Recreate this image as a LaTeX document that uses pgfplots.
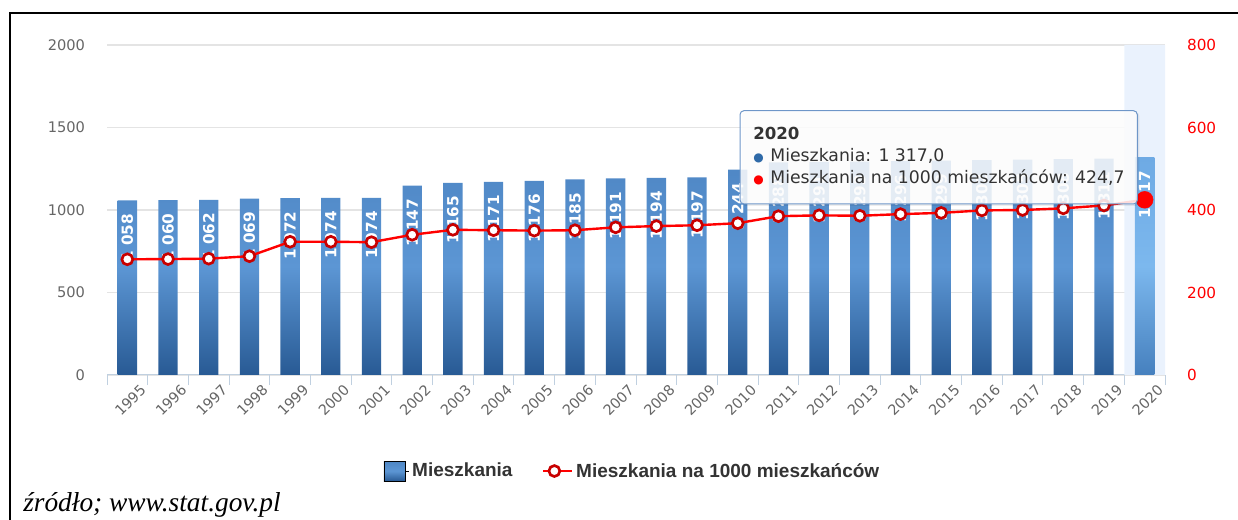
\documentclass[border=0pt]{standalone}
\usepackage{pgfplots}
\pgfplotsset{compat=1.18}
\usepackage{pgfplotstable}
\usepackage{fontspec}
\setmainfont{DejaVu Sans}
\newfontfamily\lsans{Liberation Sans}
\newfontfamily\tnr{Liberation Serif}

\definecolor{barTop}{RGB}{78,134,196}
\definecolor{barMid}{RGB}{92,150,212}
\definecolor{barBot}{RGB}{40,90,148}
\definecolor{hovTop}{RGB}{110,170,228}
\definecolor{hovMid}{RGB}{124,184,238}
\definecolor{hovBot}{RGB}{70,128,190}
\definecolor{gridc}{RGB}{228,228,228}
\definecolor{axc}{RGB}{192,208,224}
\definecolor{tickc}{RGB}{102,102,102}
\definecolor{hl}{RGB}{234,242,253}
\definecolor{textc}{RGB}{51,51,51}
\definecolor{tipc}{RGB}{110,150,200}
\definecolor{lred}{RGB}{255,0,0}
\definecolor{mred}{RGB}{200,0,0}
\definecolor{dotblue}{RGB}{47,106,168}

\pgfplotsset{
  barlegend/.style={legend image code/.code={\path (0bp,0bp) -- (19bp,0bp); \fill[top color=barTop, bottom color=barBot, middle color=barMid] (0bp,-7.5bp) rectangle (16bp,7.5bp);}},
  linelegend/.style={legend image code/.code={\path (0bp,0bp) -- (22bp,0bp); \draw[lred, line width=1.8bp] (0bp,0bp) -- (17bp,0bp); \draw[mred, fill=white, line width=2bp] (8.5bp,0bp) circle (4.1bp);}},
  barlabel/.style={every node near coord/.append style={rotate=90, anchor=east, text=white, font=\bfseries\fontsize{11.5}{11.5}\selectfont, inner sep=3bp, outer xsep=7bp}},
}

\pgfplotstableread{
x bars
0 1058
1 1060
2 1062
3 1069
4 1072
5 1074
6 1074
7 1147
8 1165
9 1171
10 1176
11 1185
12 1191
13 1194
14 1197
15 1244
16 1288
17 1291
18 1293
19 1296
20 1299
21 1302
22 1305
23 1308
24 1311
}\bartable

\pgfplotstableread{
x rate
0 280.5
1 281
2 282
3 288
4 323
5 323
6 322
7 340
8 352
9 351
10 350
11 351
12 358
13 361
14 363
15 368
16 385
17 387
18 386
19 390
20 393
21 399
22 400
23 404
24 411
25 424.7
}\ratetable

\begin{document}
\begin{tikzpicture}
\useasboundingbox (0,0) rectangle (928.5bp,390bp);
\draw[line width=1.5bp] (7.7bp,-2bp) -- (7.7bp,379.9bp) -- (930bp,379.9bp);

\begin{axis}[
  at={(80.25bp,108.75bp)}, anchor=south west,
  scale only axis, width=793.5bp, height=247.5bp,
  xmin=-0.5, xmax=25.5, ymin=0, ymax=2000,
  axis x line*=bottom, axis y line*=left,
  x axis line style={draw=axc, line width=0.75bp, -},
  y axis line style={draw=none},
  ytick={0,500,1000,1500,2000},
  ymajorgrids, grid style={draw=gridc, line width=1bp},
  major tick length=0pt,
  xtick style={draw=axc, line width=0.75bp},
  ytick style={draw=none},
  xtick={0,...,25},
  xticklabels={1995,1996,1997,1998,1999,2000,2001,2002,2003,2004,2005,2006,2007,2008,2009,2010,2011,2012,2013,2014,2015,2016,2017,2018,2019,2020},
  xticklabel style={rotate=45, anchor=east, font=\fontsize{10.8}{10.8}\selectfont, text=tickc, inner sep=1bp, yshift=-15bp, xshift=3bp},
  yticklabel style={font=\fontsize{11}{11}\selectfont, text=tickc, xshift=-13bp},
  extra x ticks={-0.5,0.5,...,25.5},
  extra x tick labels={},
  extra x tick style={grid=none, major tick length=7.5bp, tick align=outside},
  /pgf/number format/1000 sep={},
  /pgf/number format/assume math mode=true,
]
\addplot[fill=hl, draw=none] coordinates {(24.5,0) (24.5,2000) (25.5,2000) (25.5,0)} \closedcycle;
\addplot[ybar, bar width=14.5bp, bar shift=0pt, draw=none,
  shading=axis, top color=barTop, bottom color=barBot, middle color=barMid,
  point meta=y,
  nodes near coords={\pgfmathprintnumber[fixed,precision=0,1000 sep={\ },assume math mode=true]{\pgfplotspointmeta}},
  barlabel
] table[x=x, y=bars] {\bartable};
\addplot[ybar, bar width=14.5bp, bar shift=0pt, draw=none,
  shading=axis, top color=hovTop, bottom color=hovBot, middle color=hovMid,
  point meta=y,
  nodes near coords={\pgfmathprintnumber[fixed,precision=0,1000 sep={\ },assume math mode=true]{\pgfplotspointmeta}},
  barlabel
] coordinates {(25,1317)};
\end{axis}

\begin{axis}[
  at={(80.25bp,108.75bp)}, anchor=south west,
  scale only axis, width=793.5bp, height=247.5bp,
  xmin=-0.5, xmax=25.5, ymin=0, ymax=800,
  axis y line*=right, axis x line=none,
  y axis line style={draw=none},
  ytick={0,200,400,600,800}, major tick length=0pt, ytick style={draw=none},
  yticklabel style={text=lred, font=\fontsize{11.5}{11.5}\selectfont, xshift=13bp},
  /pgf/number format/assume math mode=true,
  legend style={at={(0.497,-0.291)}, anchor=center, draw=none, fill=none,
    legend columns=2, font=\lsans\bfseries\fontsize{14.3}{15}\selectfont, text=textc,
    /tikz/every even column/.append style={column sep=20bp}},
  legend cell align=left,
]
\addlegendimage{barlegend}
\addlegendentry{Mieszkania}
\addplot[lred, line width=1.8bp, mark=*, mark size=4.1bp,
  mark options={fill=white, draw=mred, line width=2bp}, linelegend] table[x=x, y=rate] {\ratetable};
\addlegendentry{Mieszkania na 1000 mieszkańców}
\addplot[only marks, mark=*, mark size=6.3bp, lred, forget plot] coordinates {(25,424.7)};
\end{axis}

% tooltip
\fill[black, opacity=0.07, rounded corners=3bp] (556.5bp,235.5bp) rectangle (854.5bp,306bp);
\draw[draw=tipc, line width=0.75bp, fill=white, fill opacity=0.85, rounded corners=3bp] (555bp,237bp) rectangle (853bp,307bp);
\node[anchor=base west, inner sep=0, font=\bfseries\fontsize{12.5}{12.5}\selectfont, text=textc] at (564.75bp,285.5bp) {2020};
\node[anchor=base west, inner sep=0, font=\fontsize{13}{13}\selectfont, text=textc] at (564.75bp,268.7bp) {{\color{dotblue}\fontsize{9}{9}\selectfont ●}\hspace{5bp}Mieszkania: 1 317,0};
\node[anchor=base west, inner sep=0, font=\fontsize{13}{13}\selectfont, text=textc] at (564.75bp,252.5bp) {{\color{lred}\fontsize{9}{9}\selectfont ●}\hspace{5bp}Mieszkania na 1000 mieszkańców: 424,7};

% source
\node[anchor=base west, inner sep=0, font=\tnr\itshape\fontsize{20.6}{21}\selectfont] at (17.25bp,6.4bp) {źródło; www.stat.gov.pl};
\end{tikzpicture}
\end{document}
